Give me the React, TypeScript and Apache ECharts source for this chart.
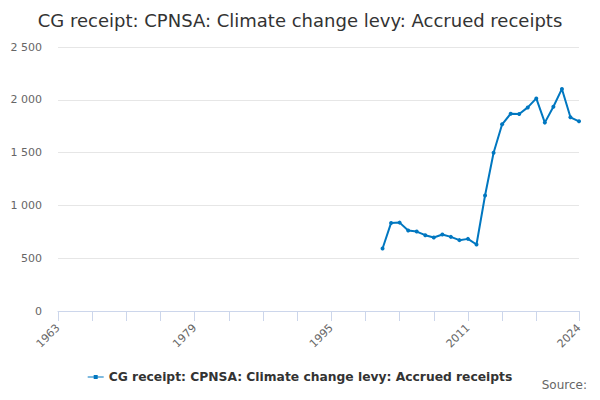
import React, { useRef, useEffect } from "react";
import * as echarts from "echarts";

const title = "CG receipt: CPNSA: Climate change levy: Accrued receipts";
const seriesName = "CG receipt: CPNSA: Climate change levy: Accrued receipts";

const firstYear = 1963;
const lastYear = 2024;
const years: string[] = [];
for (let y = firstYear; y <= lastYear; y++) years.push(String(y));

const dataYears = [
  2001, 2002, 2003, 2004, 2005, 2006, 2007, 2008, 2009, 2010, 2011, 2012,
  2013, 2014, 2015, 2016, 2017, 2018, 2019, 2020, 2021, 2022, 2023, 2024,
];
const receipts = [
  592, 834, 837, 762, 752, 718, 696, 724, 702, 671, 683, 630,
  1094, 1498, 1768, 1868, 1865, 1928, 2013, 1784, 1934, 2103, 1834, 1796,
];

const labelYears = ["1963", "1979", "1995", "2011", "2024"];

const FONT = "DejaVu Sans, sans-serif";

export default function App() {
  const chartRef = useRef<HTMLDivElement>(null);

  useEffect(() => {
    if (!chartRef.current) return;
    const chart = echarts.init(chartRef.current, null, { renderer: "svg" });

    const values = years.map((y) => {
      const i = dataYears.indexOf(Number(y));
      return i >= 0 ? receipts[i] : null;
    });

    const option: echarts.EChartsOption = {
      animation: false,
      textStyle: { fontFamily: FONT },
      title: {
        text: title,
        left: "center",
        top: 6,
        textStyle: { fontSize: 18, fontWeight: "normal", color: "#333333", fontFamily: FONT },
      },
      legend: {
        top: 366,
        left: "center",
        itemWidth: 16,
        itemHeight: 4,
        icon: "path://M0,1.5 L6,1.5 L6,0 L10,0 L10,1.5 L16,1.5 L16,2.5 L10,2.5 L10,4 L6,4 L6,2.5 L0,2.5 Z",
        textStyle: { fontSize: 12.3, fontWeight: "bold", color: "#333333", fontFamily: FONT },
        data: [seriesName],
      },
      graphic: [
        {
          type: "text",
          x: 587,
          y: 385,
          style: {
            text: "Source:",
            fill: "#666666",
            font: `12px ${FONT}`,
            align: "right",
            verticalAlign: "middle",
          },
        },
      ],
      grid: { left: 58, right: 21, top: 47, bottom: 89 },
      xAxis: {
        type: "category",
        data: years,
        boundaryGap: false,
        axisLine: { lineStyle: { color: "#ccd6eb" } },
        axisTick: {
          length: 10,
          lineStyle: { color: "#ccd6eb" },
          interval: (i: number) => (i % 4 === 0 && i < 60) || i === years.length - 1,
        },
        axisLabel: {
          rotate: 45,
          color: "#666666",
          fontSize: 11,
          fontFamily: FONT,
          margin: 15,
          interval: (i: number, v: string) => labelYears.includes(v),
        },
        splitLine: { show: false },
      },
      yAxis: {
        type: "value",
        min: 0,
        max: 2500,
        interval: 500,
        axisLine: { show: false },
        axisTick: { show: false },
        axisLabel: {
          color: "#666666",
          fontSize: 11,
          fontFamily: FONT,
          margin: 16,
          formatter: (v: number) => String(v).replace(/\B(?=(\d{3})+(?!\d))/g, " "),
        },
        splitLine: { lineStyle: { color: "#e6e6e6" } },
      },
      series: [
        {
          name: seriesName,
          type: "line",
          data: values,
          connectNulls: false,
          symbol: "circle",
          symbolSize: 4,
          lineStyle: { color: "#0077c0", width: 2 },
          itemStyle: { color: "#0077c0" },
        },
      ],
    };

    chart.setOption(option);
    return () => chart.dispose();
  }, []);

  return <div ref={chartRef} style={{ width: 600, height: 400, margin: -8 }} />;
}
